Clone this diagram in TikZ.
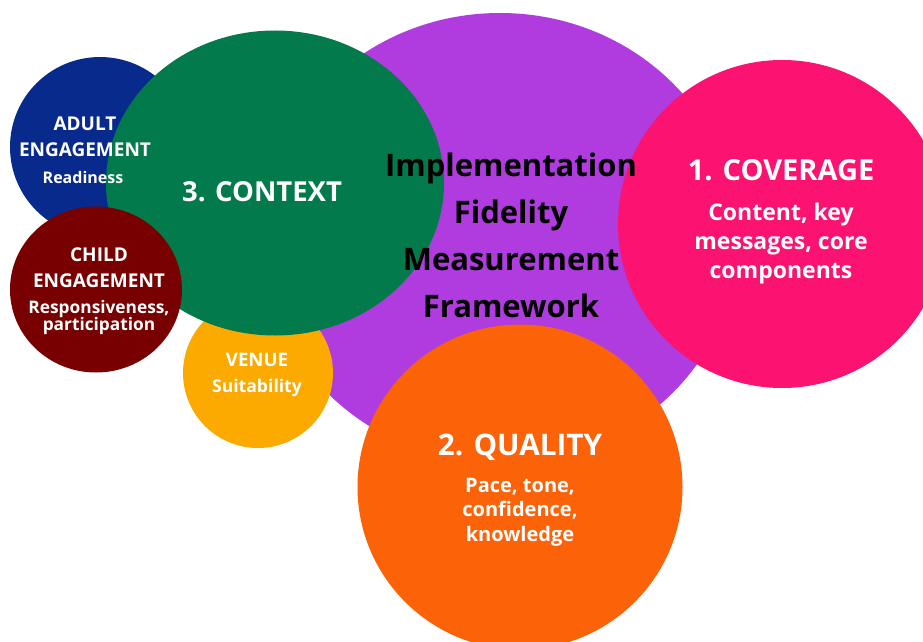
\documentclass[tikz,border=0pt]{standalone}
\usepackage{fontspec}
\setmainfont{Open Sans}
\usetikzlibrary{shapes.geometric}
\definecolor{cpurple}{RGB}{176,59,222}
\definecolor{cblue}{RGB}{8,42,140}
\definecolor{cgreen}{RGB}{3,122,76}
\definecolor{cred}{RGB}{120,0,0}
\definecolor{cyellow}{RGB}{252,170,0}
\definecolor{cpink}{RGB}{252,18,112}
\definecolor{corange}{RGB}{252,99,8}
\tikzset{
  blob/.style={ellipse,fill=#1,draw=none,inner sep=0pt},
  wtext/.style={text=white,align=center,inner sep=0pt,font=\bfseries},
  ktext/.style={text=black,align=center,inner sep=0pt,font=\bfseries}
}
\newcommand{\fs}[2]{\fontsize{#1}{#2}\selectfont}
\newcommand{\tightlines}{\lineskiplimit=-20pt\relax}
\begin{document}
\begin{tikzpicture}[x=1pt,y=-1pt]
\useasboundingbox (0,0) rectangle (923,642);
\fill[white] (0,0) rectangle (923,642);
\clip (0,0) rectangle (923,642);
% circles
\node[blob=cpurple,minimum width=476pt,minimum height=450pt] (purple) at (500,238) {};
\node[blob=cblue,minimum width=180pt,minimum height=180pt] (blue) at (100,147) {};
\node[blob=cyellow,minimum width=150pt,minimum height=150pt] (yellow) at (258,373) {};
\node[blob=cgreen,minimum width=338pt,minimum height=305pt] (green) at (275,183) {};
\node[blob=cred,minimum width=172pt,minimum height=166pt] (red) at (96,289.5) {};
\node[blob=cpink,minimum width=328pt,minimum height=328pt] (pink) at (782,224) {};
\node[blob=corange,minimum width=325pt,minimum height=325pt] (orange) at (520,487) {};
% texts
\node[wtext,font=\bfseries\fs{19}{26}] (adultT) at (85,137) {ADULT\\ENGAGEMENT};
\node[wtext,font=\bfseries\fs{16}{18}] (adultS) at (83,177) {Readiness};
\node[wtext,font=\bfseries\fs{19}{26}] (childT) at (99,268) {CHILD\\ENGAGEMENT};
\node[wtext,font=\bfseries\fs{17.3}{17}\tightlines] (childS) at (99,317.5) {Responsiveness,\\participation};
\node[wtext,font=\bfseries\fs{18.6}{22}] (venueT) at (257,360) {VENUE};
\node[wtext,font=\bfseries\fs{17.6}{20}] (venueS) at (257,388) {Suitability};
\node[wtext,font=\bfseries\fs{27.5}{32}] (contextT) at (262,192) {3. CONTEXT};
\node[ktext,font=\bfseries\fs{31}{47}] (title) at (511,235.5) {Implementation\\Fidelity\\Measurement\\Framework};
\node[wtext,font=\bfseries\fs{29}{32}] (covT) at (781,170) {1. COVERAGE};
\node[wtext,font=\bfseries\fs{23}{29}] (covS) at (781,244) {Content, key\\messages, core\\components};
\node[wtext,font=\bfseries\fs{29.7}{34}] (qualT) at (520,447) {2. QUALITY};
\node[wtext,font=\bfseries\fs{20}{24.5}] (qualS) at (520,512) {Pace, tone,\\confidence,\\knowledge};
\end{tikzpicture}
\end{document}
